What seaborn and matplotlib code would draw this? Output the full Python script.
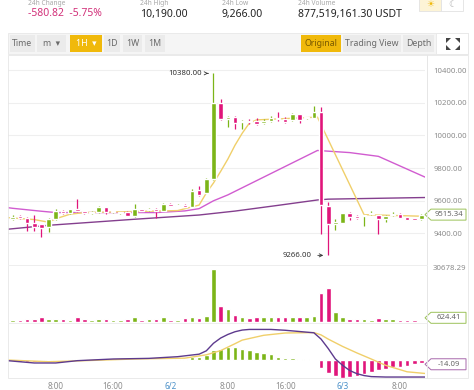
import matplotlib
matplotlib.use("Agg")
import matplotlib.pyplot as plt
import seaborn as sns
import numpy as np
from matplotlib.patches import Rectangle, Polygon

# 1h candles, 6/1 02:00 .. 6/3 11:00
opens = [9490, 9505, 9495, 9466, 9457, 9440, 9488, 9540, 9526, 9547,
         9536, 9527, 9530, 9562, 9530, 9527, 9534, 9507, 9549, 9542,
         9551, 9538, 9582, 9569, 9575, 9564, 9666, 9648, 9733, 10198,
         10100, 10115, 10080, 10084, 10088, 10075, 10088, 10108, 10100, 10094,
         10131, 10108, 10108, 10145, 9570, 9456, 9466, 9523, 9501, 9504,
         9518, 9513, 9487, 9510, 9520, 9499, 9486, 9487]
highs = [9515, 9510, 9498, 9513, 9460, 9492, 9550, 9545, 9552, 9612,
         9540, 9535, 9568, 9565, 9536, 9533, 9537, 9580, 9552, 9555,
         9553, 9585, 9585, 9578, 9578, 9672, 9690, 9738, 10380, 10222,
         10120, 10118, 10094, 10098, 10105, 10098, 10119, 10145, 10111, 10135,
         10134, 10115, 10180, 10176, 9593, 9487, 9528, 9530, 9512, 9515,
         9540, 9516, 9512, 9530, 9524, 9503, 9490, 9518]
lows = [9480, 9490, 9415, 9415, 9379, 9410, 9485, 9520, 9522, 9530,
        9520, 9520, 9528, 9520, 9524, 9522, 9504, 9500, 9537, 9540,
        9495, 9535, 9566, 9566, 9560, 9560, 9630, 9645, 9725, 10092,
        10053, 10039, 10039, 10068, 10064, 10070, 10085, 10088, 10078, 10090,
        10076, 10098, 10105, 9397, 9266, 9423, 9462, 9485, 9490, 9448,
        9515, 9395, 9470, 9505, 9494, 9480, 9480, 9484]
closes = [9502, 9495, 9465, 9442, 9433, 9488, 9540, 9526, 9547, 9535,
          9525, 9528, 9564, 9532, 9531, 9529, 9507, 9547, 9540, 9551,
          9540, 9580, 9569, 9575, 9564, 9660, 9636, 9733, 10198, 10100,
          10115, 10078, 10088, 10080, 10070, 10088, 10108, 10098, 10084, 10129,
          10094, 10112, 10141, 9574, 9456, 9468, 9523, 9503, 9497, 9510,
          9522, 9487, 9507, 9520, 9497, 9485, 9485, 9515.34]
volumes = [1350, 1160, 2140, 2140, 3280, 1930, 1930, 1930, 1540, 2900,
           1740, 1540, 2140, 1740, 1540, 1540, 1740, 2900, 1350, 2140,
           2140, 3090, 1160, 1350, 2320, 2900, 2700, 3860, 30678.29, 9450,
           7530, 4250, 2900, 2700, 3100, 2900, 2900, 3300, 2900, 2900,
           3100, 2900, 3500, 16800, 19700, 5800, 2900, 1930, 1930, 1930,
           1560, 2300, 1740, 1930, 1350, 1350, 1350, 624.41]
macd_hist = [-6, -7, -8, -9, -8, -6, -3, 2, 4, 5,
             5, 5, 4, 4, 3, 2, 2, 1, 1, 1,
             1, 2, 2, 3, 5, 13, 16, 24, 50, 55,
             60, 60, 55, 47, 39, 34, 27, 16, 11, 8,
             5, 3, 1, -39, -63, -78, -86, -81, -75, -67,
             -55, -47, -42, -34, -31, -27, -20, -14.09]

# moving averages (candle index, price)
ma7_x = [-0.7, 3, 5, 6, 8, 10, 23, 26, 27, 28, 29, 30, 31, 32, 33, 34, 42.5, 49, 57.5]
ma7_y = [9497, 9485, 9469, 9490, 9518, 9528, 9540, 9574, 9648, 9709, 9780, 9855,
         9940, 10013, 10075, 10095, 10112, 9515, 9505]
ma25_x = [-0.7, 0, 4, 6, 20, 24, 26, 28, 30, 42.5, 47, 51, 57.5]
ma25_y = [9558, 9554, 9536, 9528, 9528, 9538, 9552, 9600, 9636, 9908, 9895, 9872, 9745]
ma99_x = [-0.7, 5, 17, 26, 31, 37, 42.5, 44, 52, 57.5]
ma99_y = [9426, 9450, 9487, 9513, 9537, 9572, 9605, 9610, 9616, 9620]

macd_x = [-0.7, 3, 6, 9, 14, 19, 23, 26, 27, 28, 29, 30, 31, 32, 33, 36, 38, 42,
          43, 44, 45, 46, 47, 48, 49, 50, 52, 57.5]
macd_y = [-3, -14, -14, -3, 5, 8, 16, 28, 44, 80, 105, 122, 135, 143, 146, 146, 142, 130,
          100, 55, 5, -25, -50, -65, -74, -79, -81, -81]
signal_x = [-0.7, 5, 10, 17, 24, 27, 29, 31, 32, 35, 38, 42, 43, 44, 46, 48, 50, 52, 55, 57.5]
signal_y = [0, -8, -3, 5, 9, 25, 45, 78, 95, 118, 129, 131, 120, 100, 65, 34, 5, -25, -56, -64]

price_ticks = [9400, 9600, 9800, 10000, 10200, 10400]
time_ticks = [6, 14, 22, 30, 38, 46, 54]
time_labels = ["8:00", "16:00", "6/2", "8:00", "16:00", "6/3", "8:00"]

GREEN = "#7cb518"
PINK = "#e0157a"
W, H = 474, 390

sns.set_style("white")
plt.rcParams["font.family"] = ["Noto Sans", "DejaVu Sans"]

fig = plt.figure(figsize=(W / 100, H / 100), dpi=100)


def fpos(x0, y0, x1, y1):
    return [x0 / W, 1 - y1 / H, (x1 - x0) / W, (y1 - y0) / H]


def add_rect(x0, y0, x1, y1, fc, ec="none", lw=0.6):
    fig.add_artist(Rectangle((x0 / W, 1 - y1 / H), (x1 - x0) / W, (y1 - y0) / H,
                             transform=fig.transFigure, fc=fc, ec=ec, lw=lw))


def add_text(x, y, s, **kw):
    fig.text(x / W, 1 - y / H, s, **kw)


def add_line(xs, ys, color="#e6e6e6", lw=0.7):
    fig.add_artist(plt.Line2D([x / W for x in xs], [1 - y / H for y in ys],
                              transform=fig.transFigure, color=color, lw=lw))


# header
for x, s in [(28, "24h Change"), (140, "24h High"), (222, "24h Low"), (298, "24h Volume")]:
    add_text(x, 3.2, s, fontsize=4.8, color="#a8a8a8", va="center")
add_text(28, 14, "-580.82  -5.75%", fontsize=7.5, color="#d2317a", va="center", weight="semibold")
add_text(140, 14, "10,190.00", fontsize=7.5, color="#222222", va="center", weight="semibold")
add_text(222, 14, "9,266.00", fontsize=7.5, color="#222222", va="center", weight="semibold")
add_text(298, 14, "877,519,161.30 USDT", fontsize=7.5, color="#222222", va="center", weight="semibold")
add_rect(419, -2, 441, 11, "#fdf4d6", "#e2e2e2")
add_rect(441, -2, 463, 11, "white", "#e2e2e2")
add_text(430, 4.5, "\u2600", fontsize=6.5, color="#f0b90b", ha="center", va="center")
add_text(452, 4.5, "\u263E", fontsize=6.5, color="#b0b0b0", ha="center", va="center")

# toolbar
add_rect(8, 33, 468, 54, "#f5f5f5", "#e8e8e8")
add_rect(436, 33, 468, 54, "white", "#e8e8e8")
buttons = [(10, 35, "Time", False), (37, 66, "m  \u25BE", False), (70, 102, "1H  \u25BE", True),
           (104, 120, "1D", False), (123, 142, "1W", False), (145, 165, "1M", False),
           (301, 341, "Original", True), (343, 401, "Trading View", False), (403, 434, "Depth", False)]
for x0, x1, s, on in buttons:
    add_rect(x0, 35, x1, 52, "#f0b90b" if on else "#ebebeb")
    tc = ("#ffffff" if s.startswith("1H") else "#7a5a00") if on else "#6a6a6a"
    add_text((x0 + x1) / 2, 43.5, s, fontsize=6.3, color=tc, ha="center", va="center")
for cx, cy, sx, sy in [(446, 38, 1, 1), (460, 38, -1, 1), (446, 50, 1, -1), (460, 50, -1, -1)]:
    tri = [(cx, cy), (cx + 5 * sx, cy), (cx, cy + 5 * sy)]
    fig.add_artist(Polygon([(x / W, 1 - y / H) for x, y in tri], closed=True,
                           transform=fig.transFigure, fc="#444444", ec="none"))

# chart frame
add_rect(8, 55, 468, 378, "none", "#e6e6e6")
add_line([427, 427], [55, 378])
add_line([8, 427], [265, 265], "#eeeeee")
add_line([8, 427], [322.5, 322.5], "#eeeeee")

ax = fig.add_axes(fpos(8, 57, 425, 265))
ax_v = fig.add_axes(fpos(8, 265, 425, 322.3))
ax_m = fig.add_axes(fpos(8, 322.3, 425, 378.5))

n = len(opens)
x = np.arange(n)
o, c, hi, lo = map(np.array, (opens, closes, highs, lows))
colors = [GREEN if cc >= oo else PINK for oo, cc in zip(o, c)]

# price panel
ax.vlines(x, lo, hi, colors=colors, lw=0.9, zorder=3)
ax.bar(x, np.maximum(np.abs(c - o), 7), bottom=np.minimum(o, c), width=0.64,
       color=colors, zorder=4)
sns.lineplot(x=ma99_x, y=ma99_y, ax=ax, color="#843f8e", lw=1.0, zorder=2)
sns.lineplot(x=ma25_x, y=ma25_y, ax=ax, color="#d15cd0", lw=1.0, zorder=2)
sns.lineplot(x=ma7_x, y=ma7_y, ax=ax, color="#f0cf6a", lw=1.0, zorder=2)
ax.set_ylim(9207, 10480)
ax.set_yticks(price_ticks)
ax.set_yticklabels([f"{t:.2f}" for t in price_ticks])
ax.grid(axis="y", color="#efefef", lw=0.8)
ax.set_axisbelow(True)

imax = int(np.argmax(hi))
imin = int(np.argmin(lo))
ax.annotate(f"{hi[imax]:.2f}", xy=(imax - 0.35, hi[imax]), xytext=(imax - 1.6, hi[imax]),
            fontsize=5.6, color="#333333", ha="right", va="center",
            arrowprops=dict(arrowstyle="->", color="#333333", lw=0.6))
ax.annotate(f"{lo[imin]:.2f}", xy=(imin - 0.3, lo[imin]), xytext=(imin - 2.3, lo[imin]),
            fontsize=5.6, color="#333333", ha="right", va="center",
            arrowprops=dict(arrowstyle="->", color="#333333", lw=0.6))

# volume panel
ax_v.bar(x, volumes, width=0.64, color=colors)
ax_v.set_ylim(0, 33170)
ax_v.set_yticks([])

# macd panel
hist_colors = [GREEN if v >= 0 else PINK for v in macd_hist]
ax_m.bar(x, macd_hist, width=0.64, color=hist_colors, zorder=2)
sns.lineplot(x=signal_x, y=signal_y, ax=ax_m, color="#f0cf6a", lw=1.0, zorder=3)
sns.lineplot(x=macd_x, y=macd_y, ax=ax_m, color="#5d3a8e", lw=1.0, zorder=3)
ax_m.set_ylim(-88, 180)
ax_m.set_yticks([])
ax_m.set_xticks(time_ticks)
ax_m.set_xticklabels(time_labels)
for lab in ax_m.get_xticklabels():
    lab.set_color("#4a90c8" if "/" in lab.get_text() else "#8c8c8c")

for a in (ax, ax_v, ax_m):
    a.set_xlim(-0.66, 57.5)
    a.set_xlabel("")
    a.set_ylabel("")
    sns.despine(ax=a, left=True, bottom=True)
    if a is not ax_m:
        a.set_xticks([])
ax.yaxis.tick_right()
ax.tick_params(axis="y", length=0, pad=6, labelsize=5.6, labelcolor="#8c8c8c")
ax_m.tick_params(axis="x", length=0, pad=2.5, labelsize=5.8)


def tag(a, val, label, ec):
    yc = H - a.transData.transform((0, val))[1]
    pts = [(425, yc), (431, yc - 5.5), (466, yc - 5.5), (466, yc + 5.5), (431, yc + 5.5)]
    fig.add_artist(Polygon([(px / W, 1 - py / H) for px, py in pts], closed=True,
                           transform=fig.transFigure, fc="white", ec=ec, lw=0.7))
    add_text(449, yc, label, fontsize=5.6, color="#666666", ha="center", va="center")


tag(ax, closes[-1], f"{closes[-1]:.2f}", "#9cc25a")
tag(ax_v, 2600, f"{volumes[-1]:.2f}", "#9cc25a")
tag(ax_m, -14.09 - 6, f"{macd_hist[-1]:.2f}", "#a869ac")
add_text(433, 268, f"{max(volumes):.2f}", fontsize=5.6, color="#8c8c8c", va="center")

fig.savefig("out.png", dpi=100)
